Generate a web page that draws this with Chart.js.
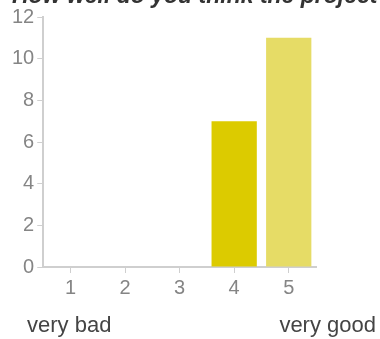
<!DOCTYPE html>
<html>
<head>
<meta charset="utf-8">
<script src="https://cdn.jsdelivr.net/npm/chart.js@4"></script>
<style>
    body { margin: 0; background: #fff; }
    #wrap { position: relative; width: 380px; height: 339px; overflow: hidden; }
    #title {
        position: absolute; left: 12px; top: -16px; white-space: nowrap;
        font: italic bold 23px/23px "Liberation Sans", Arial, sans-serif; color: #333;
    }
    .end-label {
        position: absolute; top: 312px; white-space: nowrap;
        font: 22px/26px "Liberation Sans", Arial, sans-serif; color: #444;
    }
    #lowLabel { left: 27px; }
    #highLabel { right: 4px; }
</style>
</head>
<body>
<div id="wrap">
    <canvas id="ratingChart" width="380" height="339"></canvas>
    <div id="title">How well do you think the project</div>
    <div class="end-label" id="lowLabel">very bad</div>
    <div class="end-label" id="highLabel">very good</div>
</div>
<script>
// Số phiếu cho từng mức đánh giá
const ratings = ['1', '2', '3', '4', '5'];
const votes = [0, 0, 0, 7, 11];
const barColors = ['#c9b800', '#d2c100', '#d8c700', '#dccb00', '#e6dc66'];
const yTicks = [0, 2, 4, 6, 8, 10, 12];

const axisGray = '#cfcfcf';
const tickFont = { family: '"Liberation Sans", Arial, sans-serif', size: 20 };

const ctx = document.getElementById('ratingChart').getContext('2d');
window.ratingChart = new Chart(ctx, {
    type: 'bar',
    data: {
        labels: ratings,
        datasets: [{
            data: votes,
            backgroundColor: barColors,
            barPercentage: 1,
            categoryPercentage: 0.83
        }]
    },
    options: {
        responsive: false,
        animation: false,
        devicePixelRatio: 1,
        layout: {
            padding: { left: 9, right: 64, top: 17, bottom: 36 }
        },
        plugins: {
            legend: { display: false },
            tooltip: { enabled: false }
        },
        scales: {
            x: {
                grid: {
                    offset: false,
                    drawOnChartArea: false,
                    drawTicks: true,
                    tickLength: 6,
                    color: axisGray
                },
                border: { color: axisGray, width: 2 },
                ticks: { color: '#858585', font: tickFont, padding: 3 }
            },
            y: {
                min: yTicks[0],
                max: yTicks[yTicks.length - 1],
                afterBuildTicks: axis => {
                    axis.ticks = yTicks.map(v => ({ value: v }));
                },
                grid: {
                    drawOnChartArea: false,
                    drawTicks: true,
                    tickLength: 6,
                    color: axisGray
                },
                border: { color: axisGray, width: 2 },
                ticks: { color: '#858585', font: tickFont, padding: 3 }
            }
        }
    }
});
</script>
</body>
</html>
